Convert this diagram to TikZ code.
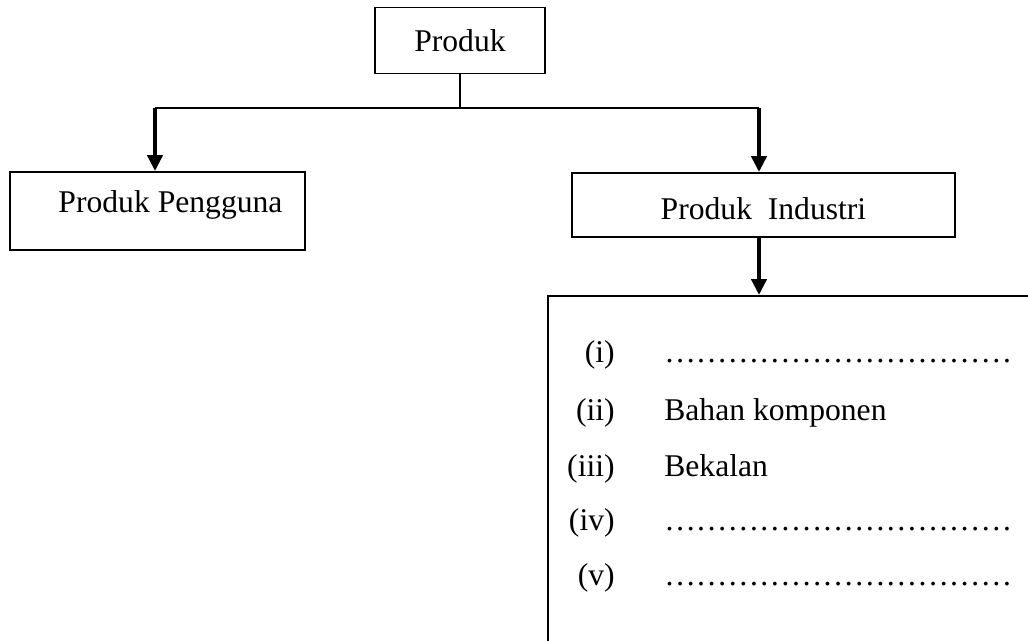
\documentclass[tikz,border=0pt]{standalone}
\usepackage{fontspec}
\setmainfont{Liberation Serif}
\usetikzlibrary{arrows.meta}

\begin{document}
\begin{tikzpicture}[x=0.02cm, y=-0.02cm]
\tikzset{box/.style = {shape=rectangle, draw, line width=1.1pt, inner sep=2pt, font=\fontsize{18}{22}\selectfont}}
\tikzset{link/.style = {draw, line width=1.5pt}}
\tikzset{arrow/.style = {draw, line width=2.3pt, -{Triangle[width=8.5pt, length=9pt]}}}
\tikzset{item/.style = {inner sep=0pt, font=\fontsize{18}{22}\selectfont}}
% Page size, the list box runs off the page
\useasboundingbox (0,0) rectangle (1028,641);
\clip (0,0) rectangle (1028,641);

% Boxes
\node[box, minimum width=3.4cm, minimum height=1.32cm] (produk) at (460,40.5) {Produk};
\node[box, minimum width=5.9cm, minimum height=1.56cm, text depth=11pt] (pengguna) at (157.5,211) {\hspace*{0.52cm}Produk Pengguna};
\node[box, minimum width=7.66cm, minimum height=1.28cm, text height=17pt, text depth=0pt] (industri) at (763.5,205) {Produk~ Industri};
\node[box, anchor=north west, minimum width=12cm, minimum height=8cm] (list) at (547,295) {};

% List inside the box
\node[item, anchor=base east] (n1) at (615,363) {(i)};
\node[item, anchor=base east] (n2) at (615,421) {(ii)};
\node[item, anchor=base east] (n3) at (615,477) {(iii)};
\node[item, anchor=base east] (n4) at (615,531) {(iv)};
\node[item, anchor=base east] (n5) at (615,586) {(v)};
\node[item, anchor=base west] (t1) at (664,363) {\ldots\ldots\ldots\ldots\ldots\ldots\ldots\ldots\ldots\ldots\ldots};
\node[item, anchor=base west] (t2) at (664,421) {Bahan komponen};
\node[item, anchor=base west] (t3) at (664,477) {Bekalan};
\node[item, anchor=base west] (t4) at (664,531) {\ldots\ldots\ldots\ldots\ldots\ldots\ldots\ldots\ldots\ldots\ldots};
\node[item, anchor=base west] (t5) at (664,586) {\ldots\ldots\ldots\ldots\ldots\ldots\ldots\ldots\ldots\ldots\ldots};

% Connectors
\coordinate (split) at (460,108);
\coordinate (left) at (155,108);
\coordinate (right) at (759,108);
\draw[link] (produk.south) -- (split);
\draw[link] (left) -- (right);
\draw[arrow] (left) -- (left |- pengguna.north);
\draw[arrow] (right) -- (right |- industri.north);
\draw[arrow] (right |- industri.south) -- (right |- list.north);
\end{tikzpicture}
\end{document}
